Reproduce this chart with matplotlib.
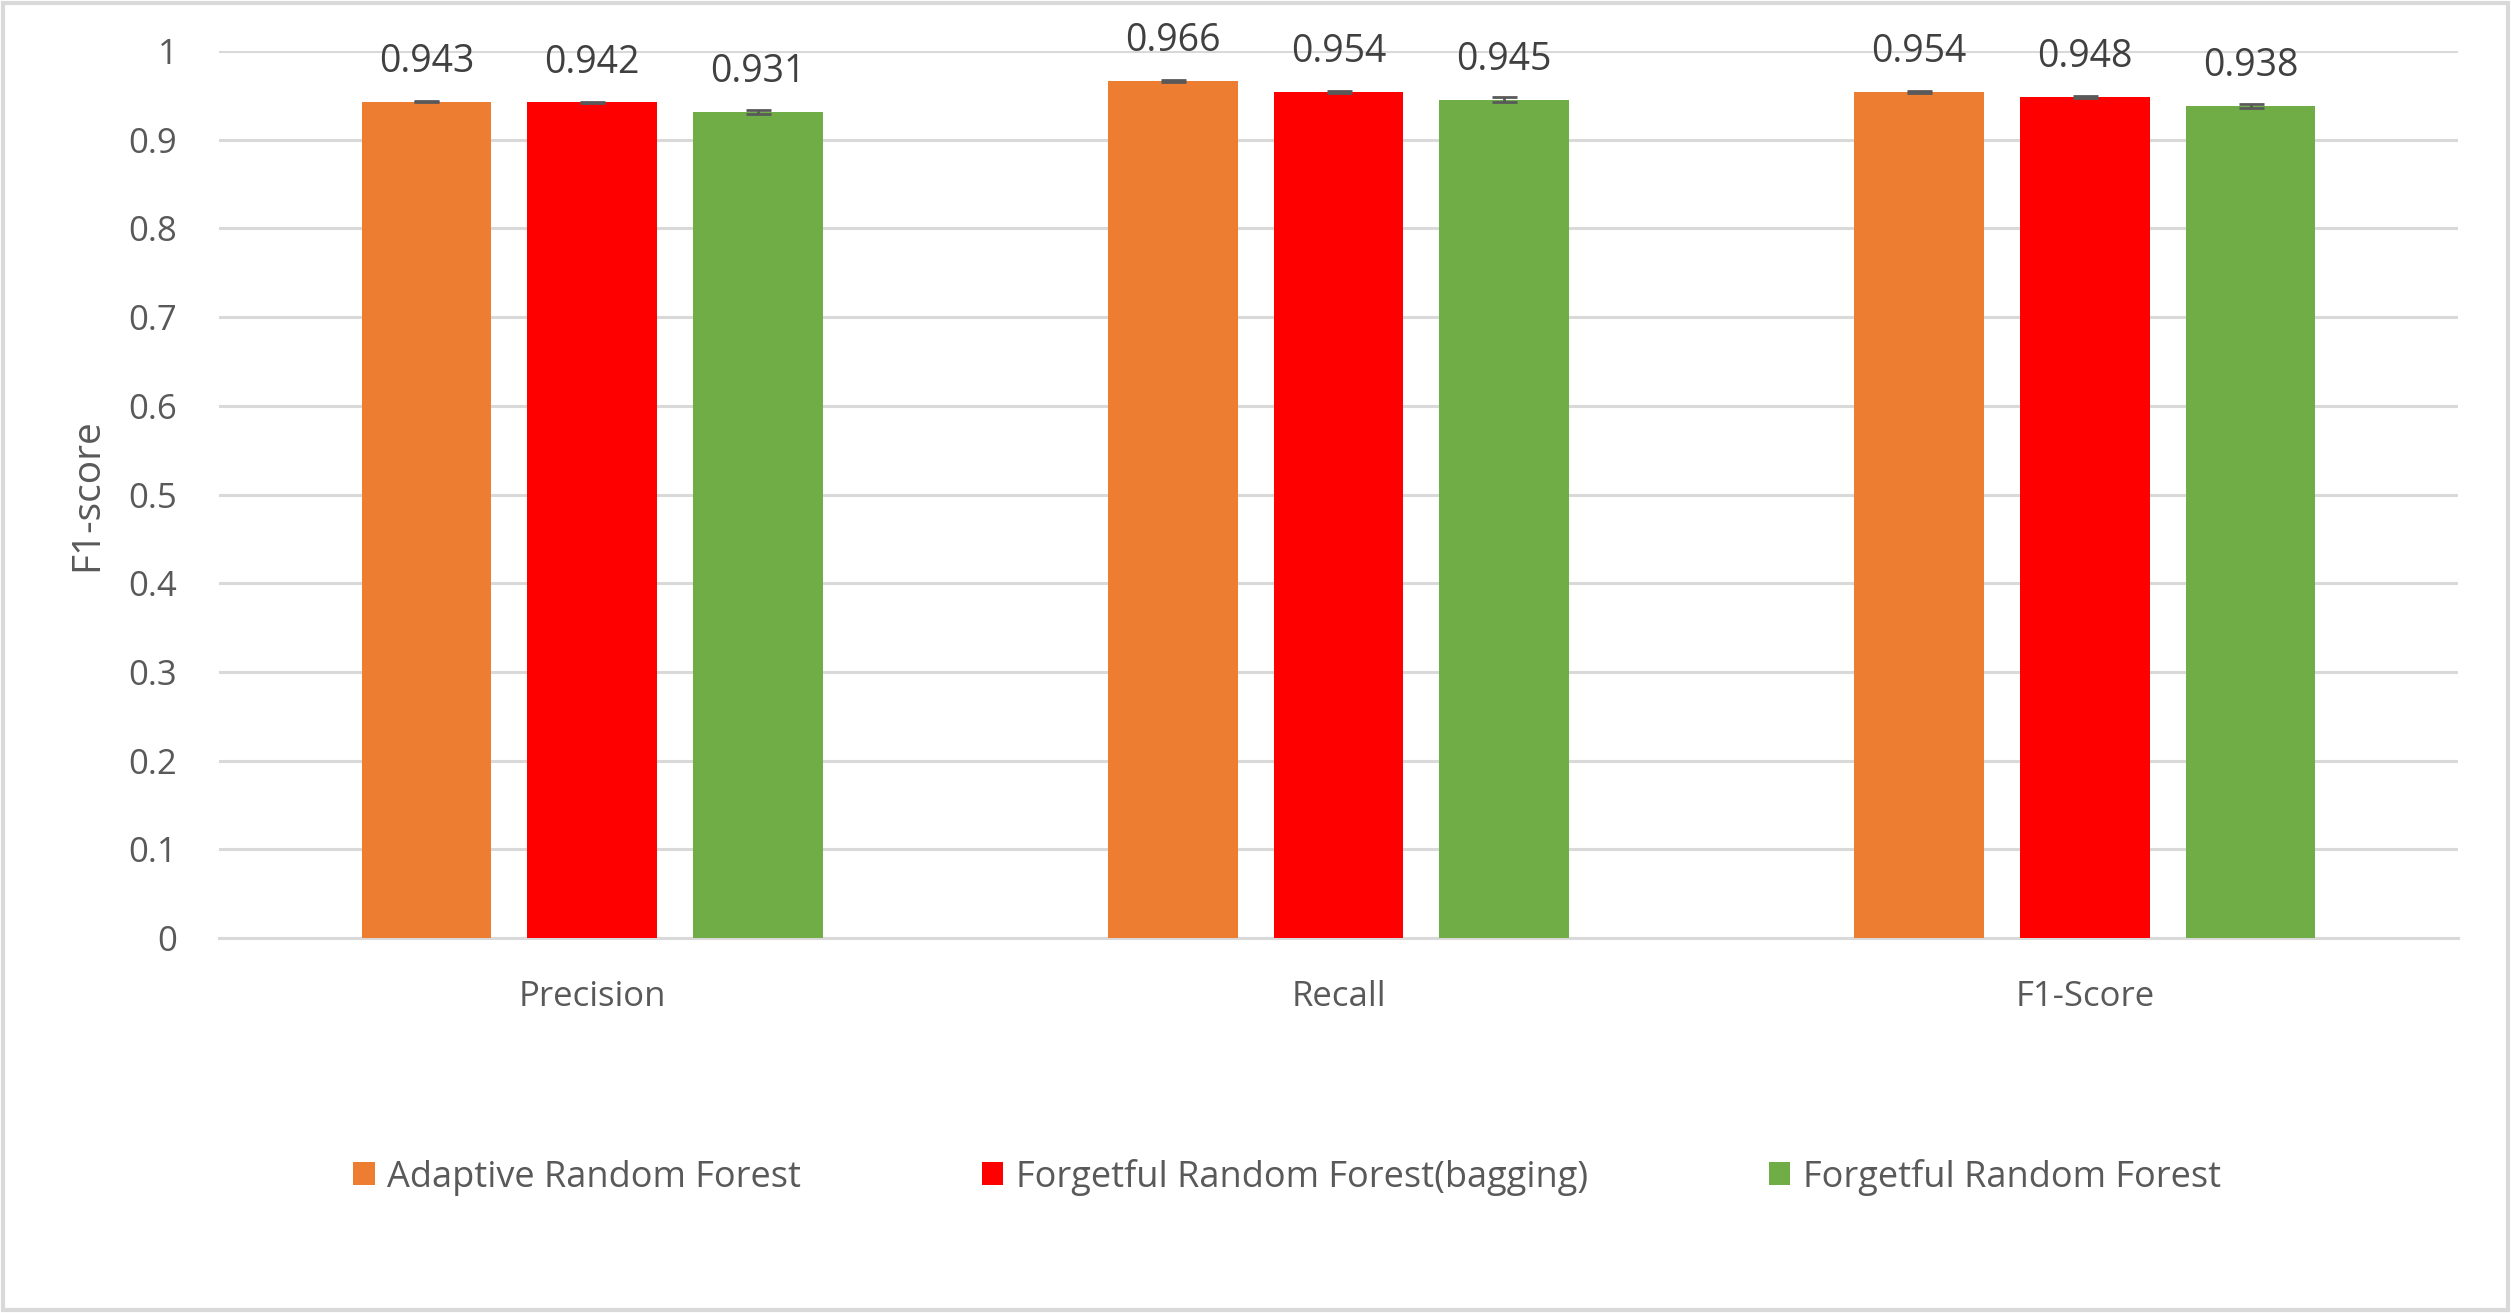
import numpy as np
import matplotlib.pyplot as plt

categories = ['Precision', 'Recall', 'F1-Score']
series = ['Adaptive Random Forest', 'Forgetful Random Forest(bagging)', 'Forgetful Random Forest']
arf = [0.943, 0.966, 0.954]
frf_bag = [0.942, 0.954, 0.948]
frf = [0.931, 0.945, 0.938]
arf_err = [0.001, 0.001, 0.001]
frf_bag_err = [0.001, 0.001, 0.001]
frf_err = [0.002, 0.003, 0.002]
yticks = [0, 0.1, 0.2, 0.3, 0.4, 0.5, 0.6, 0.7, 0.8, 0.9, 1]

colors = ['#ED7D31', '#FF0000', '#70AD47']
txt = '#595959'
plt.rcParams['font.family'] = ['Open Sans', 'DejaVu Sans']

fig = plt.figure(figsize=(25.11, 13.13), dpi=100)
ax = fig.add_axes([219 / 2511, 1 - 938 / 1313, (2458 - 219) / 2511, (938 - 51) / 1313])

x = np.arange(len(categories))
w = 0.174
step = 0.222
vals = [arf, frf_bag, frf]
errs = [arf_err, frf_bag_err, frf_err]
for i in range(3):
    pos = x + (i - 1) * step
    ax.bar(pos, vals[i], w, color=colors[i], label=series[i], zorder=3)
    ax.errorbar(pos, vals[i], yerr=errs[i], fmt='none', ecolor='#595959',
                elinewidth=2, capsize=9, capthick=2, zorder=4)
    for p, v in zip(pos, vals[i]):
        ax.annotate(f'{v:.3f}', (p, v), xytext=(0, 15), textcoords='offset points',
                    ha='center', va='bottom', fontsize=27, color='#404040')

ax.set_xlim(-0.5, 2.5)
ax.set_ylim(0, 1)
ax.set_yticks(yticks)
ax.set_yticklabels([f'{t:g}' for t in yticks])
ax.set_xticks(x)
ax.set_xticklabels(categories)
ax.tick_params(axis='both', length=0, labelsize=25, labelcolor=txt)
ax.tick_params(axis='x', pad=30)
ax.tick_params(axis='y', pad=30)
ax.grid(axis='y', color='#D9D9D9', linewidth=2.2, zorder=0)
for s in ['top', 'right', 'left']:
    ax.spines[s].set_visible(False)
ax.spines['bottom'].set_color('#D9D9D9')
ax.spines['bottom'].set_linewidth(2.2)
ax.set_ylabel('F1-score', fontsize=28, color=txt, labelpad=16)

fig.legend(loc='center', bbox_to_anchor=(1287 / 2511, 1 - 1177 / 1313), ncol=3,
           frameon=False, fontsize=26, labelcolor=txt, handlelength=0.6,
           handleheight=0.6, handletextpad=0.35, columnspacing=5.0)

fig.patches.append(plt.Rectangle((0.001, 0.002), 0.998, 0.996, transform=fig.transFigure,
                                 fill=False, edgecolor='#D9D9D9', linewidth=3))

fig.savefig('out.png', dpi=100)
